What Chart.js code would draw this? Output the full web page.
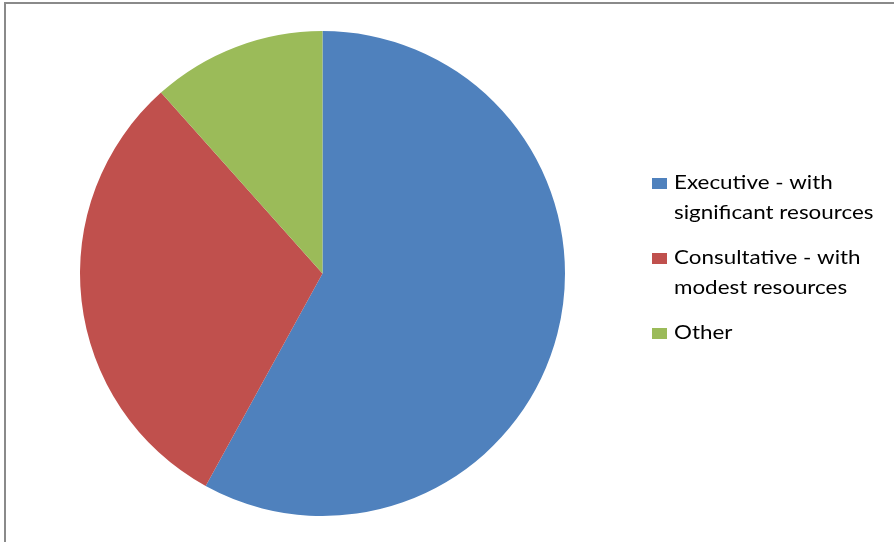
<!DOCTYPE html>
<html>
<head>
<meta charset="utf-8">
<script src="https://cdn.jsdelivr.net/npm/chart.js@4.4.0/dist/chart.umd.min.js"></script>
<style>
  html, body { margin: 0; padding: 0; background: #ffffff; }
  #wrap { width: 894px; height: 542px; position: relative; }
</style>
</head>
<body>
<div id="wrap"><canvas id="pie" width="894" height="542"></canvas></div>
<script>
// Share of units by type (percent)
const categories = [
  ['Executive - with', 'significant resources'],
  ['Consultative - with', 'modest resources'],
  ['Other']
];
const shares = [58, 30.4, 11.6];
const sliceColors = ['#4F81BD', '#C0504D', '#9BBB59'];

// Frame drawn along the top and left edges of the canvas
const framePlugin = {
  id: 'frame',
  beforeDraw(chart) {
    const ctx = chart.ctx;
    ctx.save();
    ctx.fillStyle = '#ffffff';
    ctx.fillRect(0, 0, chart.width, chart.height);
    ctx.strokeStyle = '#8a8a8a';
    ctx.lineWidth = 2;
    ctx.beginPath();
    ctx.moveTo(5, chart.height + 2);
    ctx.lineTo(5, 3);
    ctx.lineTo(chart.width + 2, 3);
    ctx.stroke();
    ctx.restore();
  }
};

// Legend on the right with wrapped, slightly widened labels
const sideLegend = {
  id: 'sideLegend',
  afterDraw(chart) {
    const ctx = chart.ctx;
    const ds = chart.data.datasets[0];
    const labels = chart.data.labels;
    const boxX = 652, boxW = 15, boxH = 11, textX = 674;
    const lineH = 29.5, itemGap = 16, stretch = 1.12;
    let y = 183;
    ctx.save();
    ctx.font = '20px Lato, "Open Sans", sans-serif';
    ctx.textBaseline = 'middle';
    labels.forEach((lbl, i) => {
      const lines = Array.isArray(lbl) ? lbl : [lbl];
      ctx.fillStyle = ds.backgroundColor[i];
      ctx.fillRect(boxX, Math.round(y - boxH / 2), boxW, boxH);
      ctx.fillStyle = '#000000';
      lines.forEach((ln, k) => {
        ctx.save();
        ctx.translate(textX, y + k * lineH);
        ctx.scale(stretch, 1);
        ctx.fillText(ln, 0, 0);
        ctx.restore();
      });
      y += lines.length * lineH + itemGap;
    });
    ctx.restore();
  }
};

new Chart(document.getElementById('pie'), {
  type: 'pie',
  data: {
    labels: categories,
    datasets: [{
      data: shares,
      backgroundColor: sliceColors,
      borderWidth: 0
    }]
  },
  options: {
    responsive: false,
    animation: false,
    layout: { padding: { left: 80, right: 329, top: 31, bottom: 26 } },
    plugins: {
      legend: { display: false },
      tooltip: { enabled: false }
    }
  },
  plugins: [framePlugin, sideLegend]
});
</script>
</body>
</html>
